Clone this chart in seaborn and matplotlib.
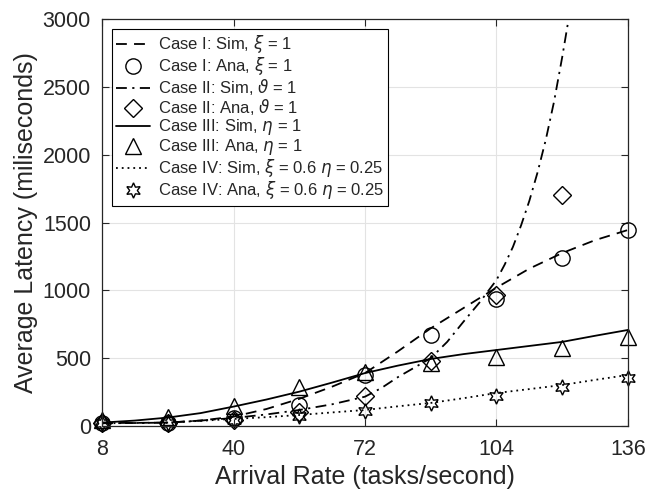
import numpy as np
import pandas as pd
import matplotlib
matplotlib.use("Agg")
import matplotlib.pyplot as plt
import seaborn as sns

# --- data ---
# simulation curves (sampled along the drawn lines)
sim_x = [8, 16, 24, 32, 40, 48, 56, 64, 72, 80, 88, 96, 104, 112, 120, 128, 136]
case1_sim = [22, 23, 25, 40, 69, 125, 200, 290, 390, 550, 720, 870, 1020, 1160, 1275, 1370, 1445]
case3_sim = [25, 40, 62, 95, 143, 195, 253, 320, 390, 445, 494, 530, 560, 590, 620, 665, 708]
case4_sim = [20, 22, 25, 38, 52, 65, 81, 100, 118, 145, 170, 205, 243, 272, 302, 340, 376]

# case II blows up, sampled more densely near the end
case2_x = [8, 16, 24, 32, 40, 48, 56, 64, 72, 76, 80, 84, 88, 92, 96, 100, 104,
           106, 108, 110, 112, 114, 116, 118, 120, 122, 123]
case2_sim = [20, 22, 25, 40, 59, 85, 118, 160, 216, 280, 360, 430, 500, 620, 770, 915, 1076,
             1190, 1320, 1480, 1660, 1870, 2110, 2390, 2720, 3080, 3300]

# analytical points
ana_x = [8, 24, 40, 56, 72, 88, 104, 120, 136]
case1_ana = [20, 22, 59, 155, 376, 671, 936, 1238, 1445]
case2_ana = [22, 25, 44, 100, 223, 480, 965, 1702, np.nan]
case3_ana = [44, 69, 147, 287, 400, 468, 509, 575, 656]
case4_ana = [20, 22, 44, 75, 110, 170, 221, 287, 354]

xticks = [8, 40, 72, 104, 136]
yticks = [0, 500, 1000, 1500, 2000, 2500, 3000]

labels = [
    r"Case I: Sim, $\xi$ = 1",
    r"Case I: Ana, $\xi$ = 1",
    r"Case II: Sim, $\vartheta$ = 1",
    r"Case II: Ana, $\vartheta$ = 1",
    r"Case III: Sim, $\eta$ = 1",
    r"Case III: Ana, $\eta$ = 1",
    r"Case IV: Sim, $\xi$ = 0.6 $\eta$ = 0.25",
    r"Case IV: Ana, $\xi$ = 0.6 $\eta$ = 0.25",
]

sns.set_style("whitegrid")
plt.rcParams["font.family"] = ["Liberation Sans", "DejaVu Sans"]
plt.rcParams["mathtext.fontset"] = "dejavusans"

fig = plt.figure(figsize=(6.62, 4.98), dpi=100)
ax = fig.add_axes([0.1541, 0.1446, 0.7945, 0.8172])

txt = "#262626"
lw = 1.3

sns.lineplot(x=sim_x, y=case1_sim, ax=ax, color="black", lw=lw, linestyle=(0, (6, 4)))
sns.lineplot(x=ana_x, y=case1_ana, ax=ax, color="black", linestyle="none", marker="o",
             markersize=11, markerfacecolor="none", markeredgecolor="black", mew=1, clip_on=False)
sns.lineplot(x=case2_x, y=case2_sim, ax=ax, color="black", lw=lw, linestyle=(0, (6, 3, 1.2, 3)))
sns.lineplot(x=ana_x, y=case2_ana, ax=ax, color="black", linestyle="none", marker="D",
             markersize=9, markerfacecolor="none", markeredgecolor="black", mew=1, clip_on=False)
sns.lineplot(x=sim_x, y=case3_sim, ax=ax, color="black", lw=lw, linestyle="-")
sns.lineplot(x=ana_x, y=case3_ana, ax=ax, color="black", linestyle="none", marker="^",
             markersize=12, markerfacecolor="none", markeredgecolor="black", mew=1, clip_on=False)
sns.lineplot(x=sim_x, y=case4_sim, ax=ax, color="black", lw=lw, linestyle=(0, (1, 2.2)))
sns.lineplot(x=ana_x, y=case4_ana, ax=ax, color="black", linestyle="none", marker=(6, 1, 0),
             markersize=11, markerfacecolor="none", markeredgecolor="black", mew=1, clip_on=False)

ax.set_xlim(8, 136)
ax.set_ylim(0, 3000)
ax.set_xticks(xticks)
ax.set_yticks(yticks)
ax.grid(True, color="#e3e3e3", lw=0.8)
for s in ax.spines.values():
    s.set_color(txt)
    s.set_linewidth(0.9)
ax.tick_params(direction="in", length=5, width=0.8, colors=txt, labelsize=15.5,
               top=True, right=True, bottom=True, left=True)
ax.tick_params(axis="x", pad=9.5)
ax.tick_params(axis="y", pad=8)
ax.set_xlabel("Arrival Rate (tasks/second)", fontsize=18, color=txt, labelpad=3.6)
ax.set_ylabel("Average Latency (miliseconds)", fontsize=18, color=txt, labelpad=3)

leg = ax.legend(ax.get_lines(), labels, loc="upper left", bbox_to_anchor=(0.019, 0.975),
                borderaxespad=0, fontsize=12, frameon=True, fancybox=False, framealpha=1,
                edgecolor="black", handlelength=2.0, handletextpad=0.5, labelspacing=0.0,
                borderpad=0.25)
leg.get_frame().set_linewidth(0.8)

fig.savefig("out.png", dpi=100)
plt.close()
